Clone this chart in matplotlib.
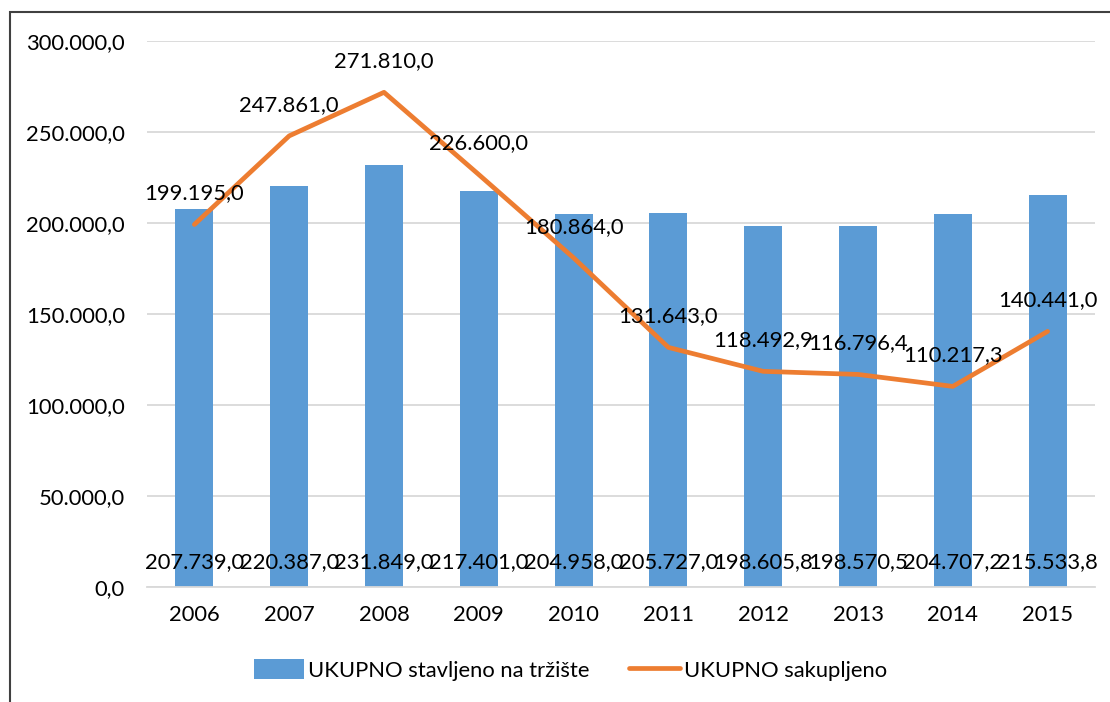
import matplotlib.pyplot as plt
from matplotlib.patches import Rectangle
from matplotlib.ticker import FuncFormatter

plt.rcParams["font.family"] = ["Lato", "DejaVu Sans"]

years = ["2006", "2007", "2008", "2009", "2010", "2011", "2012", "2013", "2014", "2015"]
stavljeno = [207739.0, 220387.0, 231849.0, 217401.0, 204958.0,
             205727.0, 198605.8, 198570.5, 204707.2, 215533.8]
sakupljeno = [199195.0, 247861.0, 271810.0, 226600.0, 180864.0,
              131643.0, 118492.9, 116796.4, 110217.3, 140441.0]

BLUE = "#5B9BD5"
ORANGE = "#ED7D31"
FS = 15.8


def hr_fmt(v, pos=None):
    # 1234.5 -> "1.234,5"
    s = f"{v:,.1f}"
    return s.replace(",", "X").replace(".", ",").replace("X", ".")


fig = plt.figure(figsize=(11.1, 7.02), dpi=100)
ax = fig.add_axes([147 / 1110, 1 - 587 / 702, 948 / 1110, 546 / 702])

x = range(len(years))
bars = ax.bar(x, stavljeno, width=0.4, color=BLUE, zorder=2,
              label="UKUPNO stavljeno na tržište")
line, = ax.plot(x, sakupljeno, color=ORANGE, linewidth=3.4, zorder=3,
                solid_capstyle="round", label="UKUPNO sakupljeno")

# oznake stupaca pri dnu
for xi, v in zip(x, stavljeno):
    ax.annotate(hr_fmt(v), (xi, 0), xytext=(0, 25), textcoords="offset pixels",
                ha="center", va="center", fontsize=FS, color="black", zorder=4)

# oznake linije iznad točaka
for xi, v in zip(x, sakupljeno):
    ax.annotate(hr_fmt(v), (xi, v), xytext=(0, 31), textcoords="offset pixels",
                ha="center", va="center", fontsize=FS, color="black", zorder=4)

ax.set_xlim(-0.5, len(years) - 0.5)
ax.set_ylim(0, 300000)
ax.set_yticks(range(0, 300001, 50000))
ax.yaxis.set_major_formatter(FuncFormatter(hr_fmt))
ax.set_xticks(list(x))
ax.set_xticklabels(years)
ax.tick_params(axis="both", length=0, labelsize=FS)
ax.tick_params(axis="y", pad=16)
ax.tick_params(axis="x", pad=13)
ax.grid(axis="y", color="#D9D9D9", linewidth=1.3, zorder=0)
for side in ["top", "right", "left"]:
    ax.spines[side].set_visible(False)
ax.spines["bottom"].set_color("#D9D9D9")
ax.spines["bottom"].set_linewidth(1.3)

fig.legend([bars, line], ["UKUPNO stavljeno na tržište", "UKUPNO sakupljeno"],
           loc="center", bbox_to_anchor=(0.514, 1 - 670 / 702), ncol=2,
           frameon=False, fontsize=FS, handlelength=2.3, handleheight=1.0,
           handletextpad=0.2, columnspacing=1.8)

# okvir grafikona (odrezan desno i dolje)
fig.patches.append(Rectangle((10 / 1110, -0.2), 1.5, 1.2 - 12 / 702,
                             transform=fig.transFigure, fill=False,
                             edgecolor="#404040", linewidth=1.5))

fig.savefig("out.png", dpi=100)
